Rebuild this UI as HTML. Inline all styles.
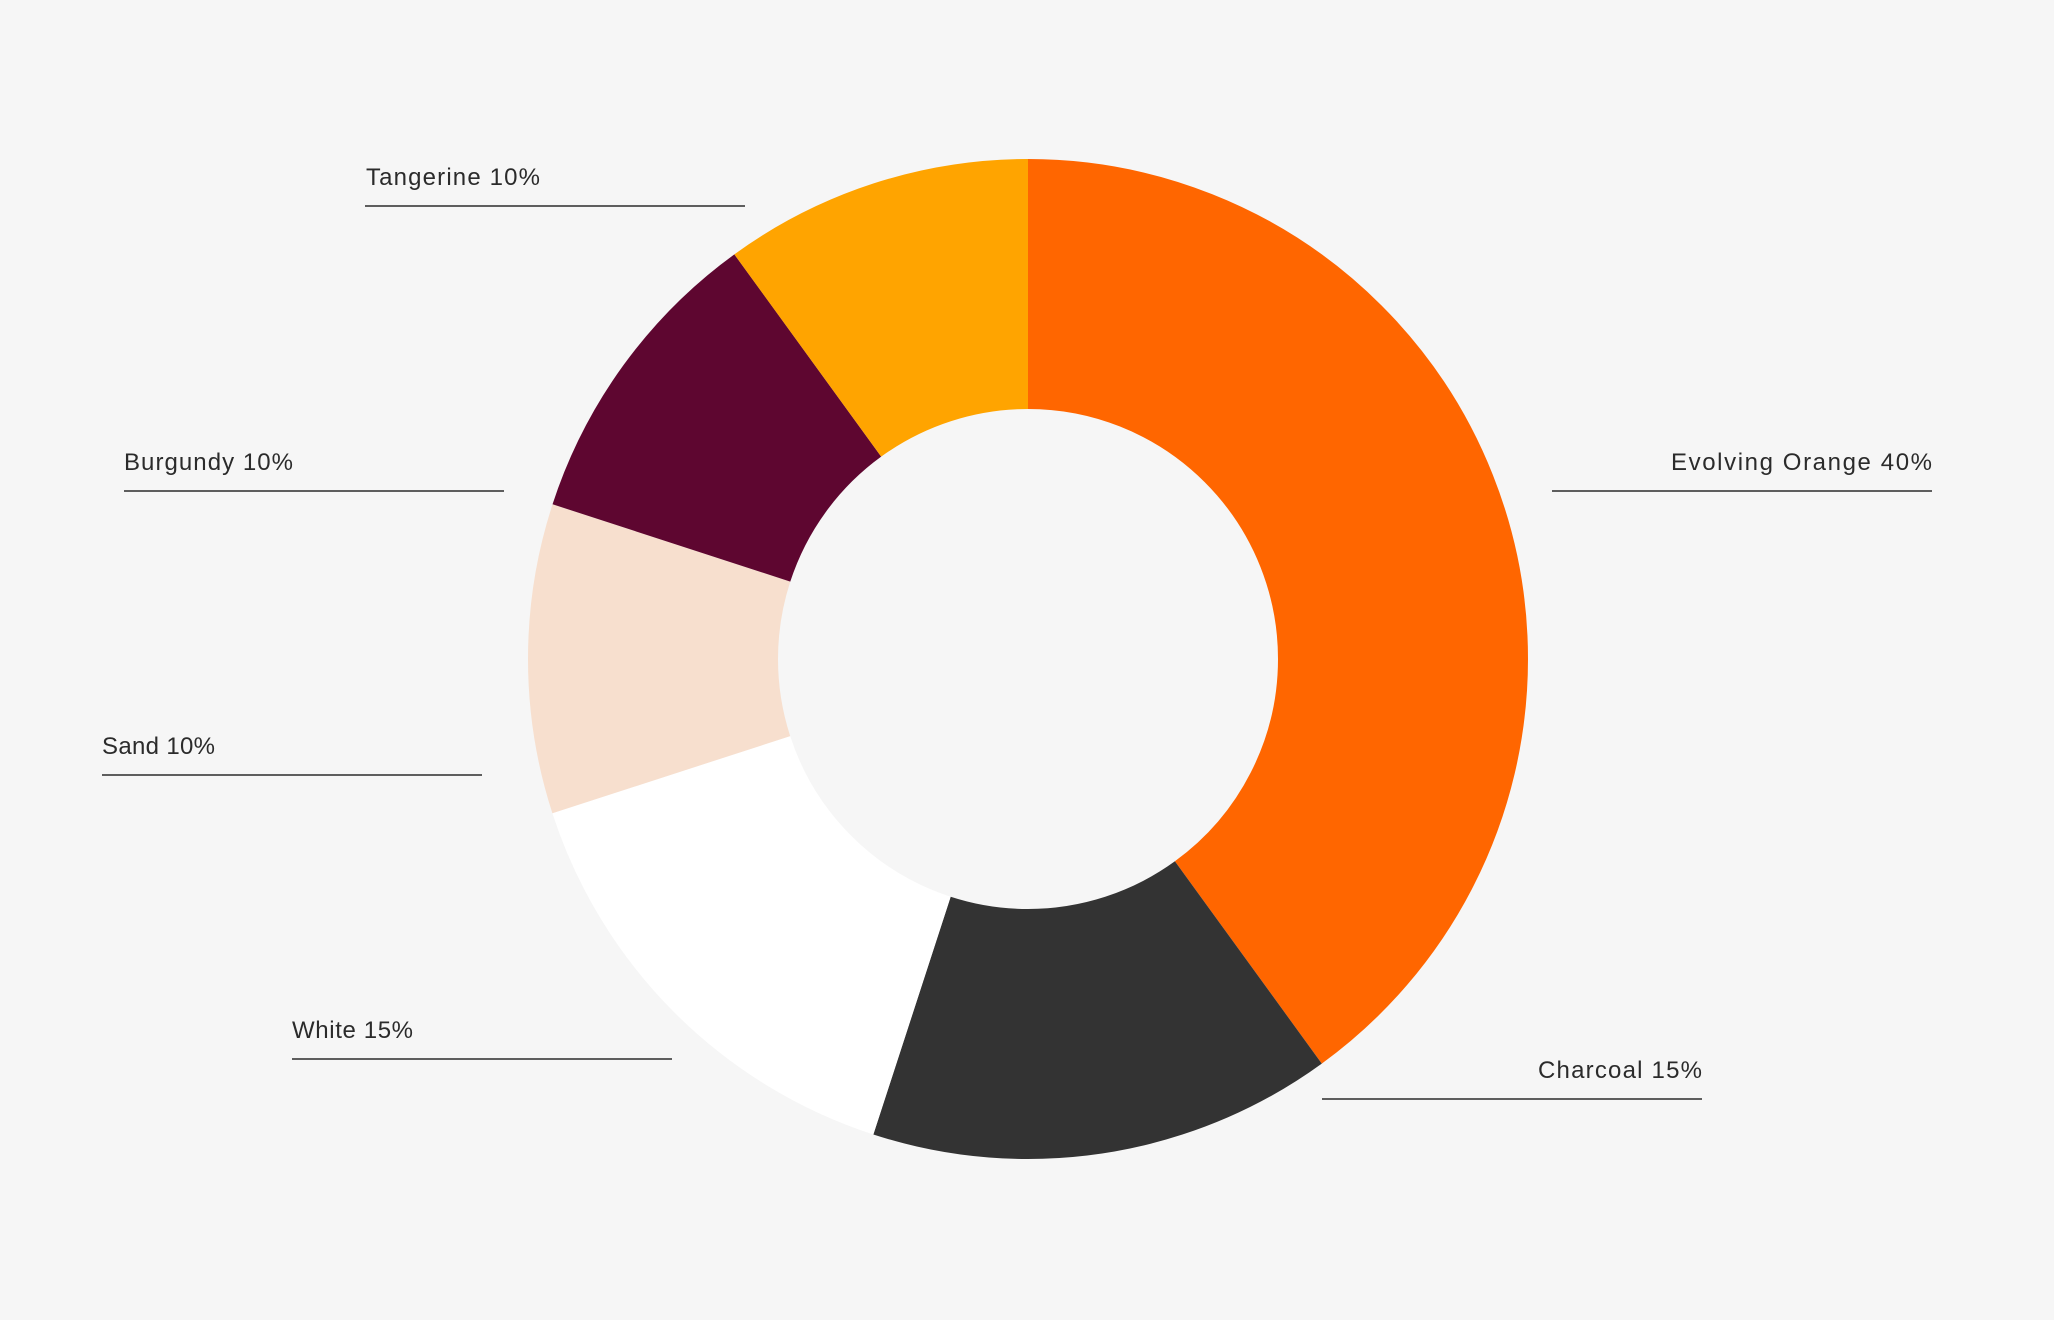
<!DOCTYPE html>
<html><head><meta charset="utf-8"><style>
html,body{margin:0;padding:0;background:#f6f6f6;}
svg{display:block}
text{font-family:"Liberation Sans",sans-serif;font-size:24px;fill:#2b2b2b;}
</style></head><body>
<svg width="2054" height="1320" viewBox="0 0 2054 1320">
<rect width="2054" height="1320" fill="#f6f6f6"/>
<g transform="rotate(-90 1028 659)" fill="none" stroke-width="250">
<circle cx="1028" cy="659" r="375" stroke="#FF6600" stroke-dasharray="942.48 2356.19" stroke-dashoffset="0"/>
<circle cx="1028" cy="659" r="375" stroke="#333333" stroke-dasharray="353.43 2356.19" stroke-dashoffset="-942.48"/>
<circle cx="1028" cy="659" r="375" stroke="#FFFFFF" stroke-dasharray="353.43 2356.19" stroke-dashoffset="-1295.91"/>
<circle cx="1028" cy="659" r="375" stroke="#F7DFCE" stroke-dasharray="235.62 2356.19" stroke-dashoffset="-1649.34"/>
<circle cx="1028" cy="659" r="375" stroke="#5E0630" stroke-dasharray="235.62 2356.19" stroke-dashoffset="-1884.96"/>
<circle cx="1028" cy="659" r="375" stroke="#FFA400" stroke-dasharray="235.62 2356.19" stroke-dashoffset="-2120.57"/>
</g>
<g stroke="#2b2b2b" stroke-width="1.6">
<line x1="365" y1="206" x2="745" y2="206"/>
<line x1="124" y1="491" x2="504" y2="491"/>
<line x1="102" y1="775" x2="482" y2="775"/>
<line x1="292" y1="1059" x2="672" y2="1059"/>
<line x1="1552" y1="491" x2="1932" y2="491"/>
<line x1="1322" y1="1099" x2="1702" y2="1099"/>
</g>
<text x="366" y="185" textLength="174" lengthAdjust="spacing">Tangerine 10%</text>
<text x="124" y="470" textLength="169" lengthAdjust="spacing">Burgundy 10%</text>
<text x="102" y="754" textLength="113" lengthAdjust="spacing">Sand 10%</text>
<text x="292" y="1038" textLength="121" lengthAdjust="spacing">White 15%</text>
<text x="1671" y="470" textLength="261" lengthAdjust="spacing">Evolving Orange 40%</text>
<text x="1538" y="1078" textLength="164" lengthAdjust="spacing">Charcoal 15%</text>
</svg>
</body></html>
